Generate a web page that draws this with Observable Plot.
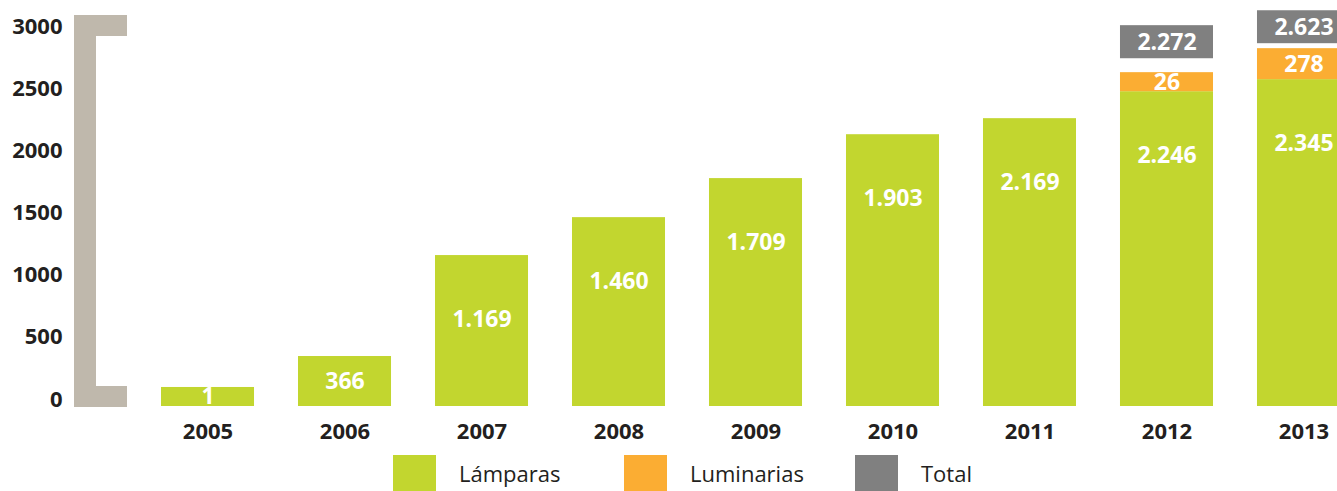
<!DOCTYPE html>
<html><head><meta charset="utf-8">
<script src="https://cdn.jsdelivr.net/npm/d3@7"></script>
<script src="https://cdn.jsdelivr.net/npm/@observablehq/plot@0.6"></script>
<style>
body{margin:0;background:#fff;font-family:"Open Sans",sans-serif;}
#legend{display:flex;margin-left:393px;padding-top:3px;height:40px;align-items:center}
.item{display:flex;align-items:center;width:231px;}
.sw{width:43px;height:37px;margin-right:23px;flex:none}
.lbl{font-size:22px;color:#231f20;}
</style></head><body><div id="chart"></div><div id="legend"></div>
<script>
// ---- data ----
const years = ["2005","2006","2007","2008","2009","2010","2011","2012","2013"];
// printed labels of the green (Lámparas) bars
const lamparasLabel = ["1","366","1.169","1.460","1.709","1.903","2.169","2.246","2.345"];
// bar heights as drawn against the axis
const lamparasBar = [153, 402, 1214, 1519, 1833, 2186, 2315, 2532, 2629];
const luminariasYears = ["2012","2013"];
const luminariasLabel = ["26","278"];
const luminariasBar = [153, 249];
const totalYears = ["2012","2013"];
const totalLabel = ["2.272","2.623"];
const totalLow = [2797, 2918];
const totalHigh = [3063, 3183];
const yTicks = [0,500,1000,1500,2000,2500,3000];
const seriesNames = ["Lámparas","Luminarias","Total"];
const seriesColors = ["#c2d62f","#fbad33","#808080"];
const bracketColor = "#bfb8ac";
const textColor = "#231f20";

// ---- tables built from the arrays ----
const lamps = years.map((year,i)=>({year, series:seriesNames[0], value:lamparasBar[i], label:lamparasLabel[i]}));
const lums = luminariasYears.map((year,i)=>{
  const base = lamparasBar[years.indexOf(year)];
  return {year, series:seriesNames[1], value:luminariasBar[i], label:luminariasLabel[i], mid: base + luminariasBar[i]/2};
});
const totals = totalYears.map((year,i)=>({year, y1:totalLow[i], y2:totalHigh[i], mid:(totalLow[i]+totalHigh[i])/2, label:totalLabel[i]}));

const labelFont = {fill:"white", fontWeight:"bold", fontSize:23};

const plot = Plot.plot({
  width:1337, height:450,
  marginTop:33, marginBottom:44, marginLeft:64, marginRight:0,
  style:{fontFamily:"'Open Sans', sans-serif", color:textColor, background:"white", overflow:"visible"},
  x:{type:"band", domain:years, range:[161,1350], paddingInner:0.321, paddingOuter:0, align:0, round:false},
  y:{domain:[0,3000]},
  color:{domain:seriesNames, range:seriesColors},
  marks:[
    Plot.barY([...lamps, ...lums], {x:"year", y:"value", fill:"series"}),
    Plot.barY(totals, {x:"year", y1:"y1", y2:"y2", fill:seriesColors[2]}),
    Plot.text(lamps.filter(d=>d.value>1000), {x:"year", y:"value", text:"label", dy:64, ...labelFont}),
    Plot.text(lamps.filter(d=>d.value<=1000), {x:"year", y:d=>d.value/2, text:"label", ...labelFont}),
    Plot.text(lums, {x:"year", y:"mid", text:"label", ...labelFont}),
    Plot.text(totals, {x:"year", y:"mid", text:"label", ...labelFont}),
    Plot.axisY({ticks:yTicks, tickSize:0, tickPadding:2, dy:-7, fontSize:22, fontWeight:"bold", tickFormat:d=>String(d), label:null}),
    Plot.axisX({tickSize:0, tickPadding:17, fontSize:22, fontWeight:"bold", label:null})
  ]
});

// decorative bracket beside the axis, positioned with the y scale
const ys = plot.scale("y");
const yb = ys.apply(0) + 1, yt = ys.apply(3000) - 18;
const g = d3.select(plot).insert("g", ":first-child").attr("fill", bracketColor);
g.append("rect").attr("x",74).attr("width",22).attr("y",yt).attr("height",yb-yt);
g.append("rect").attr("x",74).attr("width",53).attr("y",yt).attr("height",21);
g.append("rect").attr("x",74).attr("width",53).attr("y",yb-21).attr("height",21);

document.getElementById("chart").appendChild(plot);

// legend
const leg = d3.select("#legend");
seriesNames.forEach((name,i)=>{
  const it = leg.append("div").attr("class","item");
  it.append("div").attr("class","sw").style("background", seriesColors[i]);
  it.append("span").attr("class","lbl").text(name);
});
</script></body></html>
